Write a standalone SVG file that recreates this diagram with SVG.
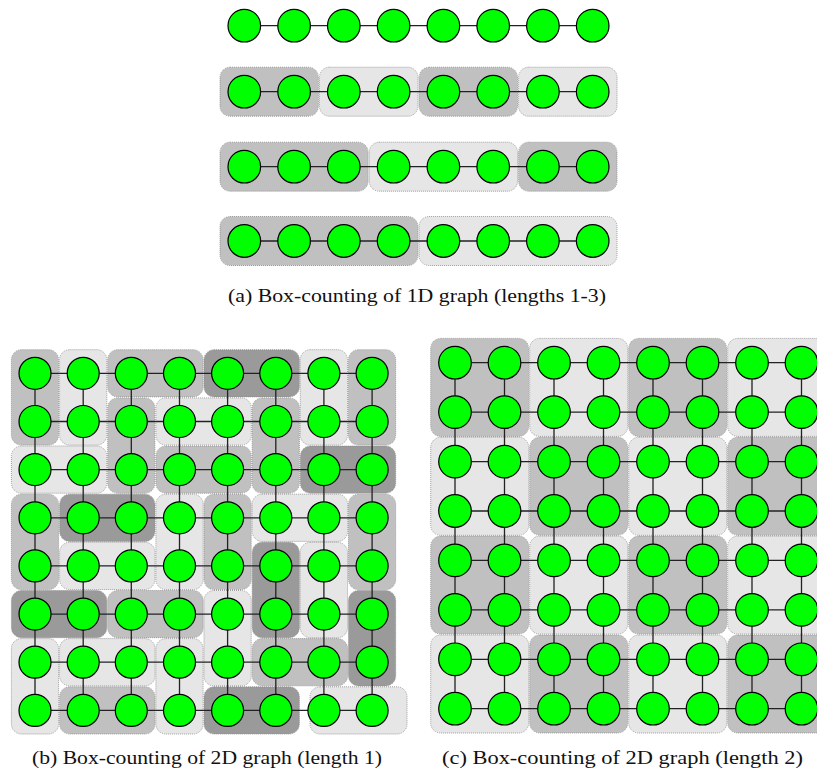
<svg xmlns="http://www.w3.org/2000/svg" width="817" height="774" viewBox="0 0 817 774">
<style>
.n circle{fill:#00ff00;stroke:#000;stroke-width:1.2}
.b{stroke:#8c8c8c;stroke-width:0.8;stroke-dasharray:1 1}
.L{fill:#e6e6e6}
.M{fill:#c0c0c0}
.D{fill:#9a9a9a}
.e{fill:none;stroke:#222;stroke-width:1.3}
.cap{font-family:"Liberation Serif","Times New Roman",serif;font-size:19px;fill:#111}
</style>
<rect width="817" height="774" fill="#fff"/>
<g id="boxes-a">
<rect class="b M" x="220" y="67.2" width="98.4" height="49" rx="10"/>
<rect class="b L" x="319.5" y="67.2" width="98.4" height="49" rx="10"/>
<rect class="b M" x="419.1" y="67.2" width="98.4" height="49" rx="10"/>
<rect class="b L" x="518.6" y="67.2" width="98.4" height="49" rx="10"/>
<rect class="b M" x="220" y="142.2" width="148.1" height="49" rx="10"/>
<rect class="b L" x="369.3" y="142.2" width="148.2" height="49" rx="10"/>
<rect class="b M" x="518.6" y="142.2" width="98.4" height="49" rx="10"/>
<rect class="b M" x="220" y="216.5" width="197.9" height="49" rx="10"/>
<rect class="b L" x="419.1" y="216.5" width="197.9" height="49" rx="10"/>
</g>
<g id="boxes-b">
<rect class="b M" x="11.4" y="349.7" width="47.2" height="95.4" rx="10"/>
<rect class="b L" x="59.6" y="349.7" width="47.2" height="95.4" rx="10"/>
<rect class="b M" x="107.7" y="349.7" width="95.4" height="47.2" rx="10"/>
<rect class="b D" x="204" y="349.7" width="95.4" height="47.2" rx="10"/>
<rect class="b L" x="300.3" y="349.7" width="47.2" height="95.4" rx="10"/>
<rect class="b M" x="348.5" y="349.7" width="47.2" height="95.4" rx="10"/>
<rect class="b M" x="107.7" y="397.9" width="47.2" height="95.4" rx="10"/>
<rect class="b L" x="155.9" y="397.9" width="95.4" height="47.2" rx="10"/>
<rect class="b M" x="252.2" y="397.9" width="47.2" height="95.4" rx="10"/>
<rect class="b L" x="11.4" y="446" width="95.4" height="47.2" rx="10"/>
<rect class="b M" x="155.9" y="446" width="95.4" height="47.2" rx="10"/>
<rect class="b D" x="300.3" y="446" width="95.4" height="47.2" rx="10"/>
<rect class="b M" x="11.4" y="494.2" width="47.2" height="95.4" rx="10"/>
<rect class="b D" x="59.6" y="494.2" width="95.4" height="47.2" rx="10"/>
<rect class="b L" x="155.9" y="494.2" width="47.2" height="95.4" rx="10"/>
<rect class="b M" x="204" y="494.2" width="47.2" height="95.4" rx="10"/>
<rect class="b L" x="252.2" y="494.2" width="95.4" height="47.2" rx="10"/>
<rect class="b M" x="348.5" y="494.2" width="47.2" height="95.4" rx="10"/>
<rect class="b L" x="59.6" y="542.3" width="95.4" height="47.2" rx="10"/>
<rect class="b D" x="252.2" y="542.3" width="47.2" height="95.4" rx="10"/>
<rect class="b L" x="300.3" y="542.3" width="47.2" height="95.4" rx="10"/>
<rect class="b D" x="11.4" y="590.5" width="95.4" height="47.2" rx="10"/>
<rect class="b M" x="107.7" y="590.5" width="95.4" height="47.2" rx="10"/>
<rect class="b L" x="204" y="590.5" width="47.2" height="95.4" rx="10"/>
<rect class="b D" x="348.5" y="590.5" width="47.2" height="95.4" rx="10"/>
<rect class="b L" x="11.4" y="638.6" width="47.2" height="95.4" rx="10"/>
<rect class="b L" x="59.6" y="638.6" width="95.4" height="47.2" rx="10"/>
<rect class="b L" x="155.9" y="638.6" width="47.2" height="95.4" rx="10"/>
<rect class="b M" x="252.2" y="638.6" width="95.4" height="47.2" rx="10"/>
<rect class="b M" x="59.6" y="686.8" width="95.4" height="47.2" rx="10"/>
<rect class="b D" x="204" y="686.8" width="95.4" height="47.2" rx="10"/>
<rect class="b L" x="310" y="686.8" width="97" height="47.2" rx="10"/>
</g>
<g id="boxes-c">
<rect class="b M" x="430.7" y="338.4" width="98" height="98" rx="10"/>
<rect class="b L" x="529.7" y="338.4" width="98" height="98" rx="10"/>
<rect class="b M" x="628.7" y="338.4" width="98" height="98" rx="10"/>
<rect class="b L" x="727.7" y="338.4" width="98" height="98" rx="10"/>
<rect class="b L" x="430.7" y="437.3" width="98" height="98" rx="10"/>
<rect class="b M" x="529.7" y="437.3" width="98" height="98" rx="10"/>
<rect class="b L" x="628.7" y="437.3" width="98" height="98" rx="10"/>
<rect class="b M" x="727.7" y="437.3" width="98" height="98" rx="10"/>
<rect class="b M" x="430.7" y="536.1" width="98" height="98" rx="10"/>
<rect class="b L" x="529.7" y="536.1" width="98" height="98" rx="10"/>
<rect class="b M" x="628.7" y="536.1" width="98" height="98" rx="10"/>
<rect class="b L" x="727.7" y="536.1" width="98" height="98" rx="10"/>
<rect class="b L" x="430.7" y="635" width="98" height="98" rx="10"/>
<rect class="b M" x="529.7" y="635" width="98" height="98" rx="10"/>
<rect class="b L" x="628.7" y="635" width="98" height="98" rx="10"/>
<rect class="b M" x="727.7" y="635" width="98" height="98" rx="10"/>
</g>
<g id="connectors">
<path class="e" d="M244.3 25.7H592.7M244.3 91.7H592.7M244.3 166.7H592.7M244.3 241H592.7"/>
<path class="e" d="M35 373.3H372.1M35 421.5H372.1M35 469.6H372.1M35 517.8H372.1M35 565.9H372.1M35 614.1H372.1M35 662.2H372.1M35 710.4H372.1M35 373.3V710.4M83.2 373.3V710.4M131.3 373.3V710.4M179.5 373.3V710.4M227.6 373.3V710.4M275.8 373.3V710.4M323.9 373.3V710.4M372.1 373.3V710.4"/>
<path class="e" d="M455 362.7H801.5M455 412.1H801.5M455 461.6H801.5M455 511H801.5M455 560.4H801.5M455 609.9H801.5M455 659.3H801.5M455 708.7H801.5M455 362.7V708.7M504.5 362.7V708.7M554 362.7V708.7M603.5 362.7V708.7M653 362.7V708.7M702.5 362.7V708.7M752 362.7V708.7M801.5 362.7V708.7"/>
</g>
<g id="nodes-a" class="n">
<g id="a1n0"><circle cx="244.3" cy="25.7" r="16.3"/></g>
<g id="a1n1"><circle cx="294.1" cy="25.7" r="16.3"/></g>
<g id="a1n2"><circle cx="343.8" cy="25.7" r="16.3"/></g>
<g id="a1n3"><circle cx="393.6" cy="25.7" r="16.3"/></g>
<g id="a1n4"><circle cx="443.4" cy="25.7" r="16.3"/></g>
<g id="a1n5"><circle cx="493.2" cy="25.7" r="16.3"/></g>
<g id="a1n6"><circle cx="542.9" cy="25.7" r="16.3"/></g>
<g id="a1n7"><circle cx="592.7" cy="25.7" r="16.3"/></g>
<g id="a2n0"><circle cx="244.3" cy="91.7" r="16.3"/></g>
<g id="a2n1"><circle cx="294.1" cy="91.7" r="16.3"/></g>
<g id="a2n2"><circle cx="343.8" cy="91.7" r="16.3"/></g>
<g id="a2n3"><circle cx="393.6" cy="91.7" r="16.3"/></g>
<g id="a2n4"><circle cx="443.4" cy="91.7" r="16.3"/></g>
<g id="a2n5"><circle cx="493.2" cy="91.7" r="16.3"/></g>
<g id="a2n6"><circle cx="542.9" cy="91.7" r="16.3"/></g>
<g id="a2n7"><circle cx="592.7" cy="91.7" r="16.3"/></g>
<g id="a3n0"><circle cx="244.3" cy="166.7" r="16.3"/></g>
<g id="a3n1"><circle cx="294.1" cy="166.7" r="16.3"/></g>
<g id="a3n2"><circle cx="343.8" cy="166.7" r="16.3"/></g>
<g id="a3n3"><circle cx="393.6" cy="166.7" r="16.3"/></g>
<g id="a3n4"><circle cx="443.4" cy="166.7" r="16.3"/></g>
<g id="a3n5"><circle cx="493.2" cy="166.7" r="16.3"/></g>
<g id="a3n6"><circle cx="542.9" cy="166.7" r="16.3"/></g>
<g id="a3n7"><circle cx="592.7" cy="166.7" r="16.3"/></g>
<g id="a4n0"><circle cx="244.3" cy="241" r="16.3"/></g>
<g id="a4n1"><circle cx="294.1" cy="241" r="16.3"/></g>
<g id="a4n2"><circle cx="343.8" cy="241" r="16.3"/></g>
<g id="a4n3"><circle cx="393.6" cy="241" r="16.3"/></g>
<g id="a4n4"><circle cx="443.4" cy="241" r="16.3"/></g>
<g id="a4n5"><circle cx="493.2" cy="241" r="16.3"/></g>
<g id="a4n6"><circle cx="542.9" cy="241" r="16.3"/></g>
<g id="a4n7"><circle cx="592.7" cy="241" r="16.3"/></g>
</g>
<g id="nodes-b" class="n">
<g id="b0-0"><circle cx="35" cy="373.3" r="16"/></g>
<g id="b0-1"><circle cx="83.2" cy="373.3" r="16"/></g>
<g id="b0-2"><circle cx="131.3" cy="373.3" r="16"/></g>
<g id="b0-3"><circle cx="179.5" cy="373.3" r="16"/></g>
<g id="b0-4"><circle cx="227.6" cy="373.3" r="16"/></g>
<g id="b0-5"><circle cx="275.8" cy="373.3" r="16"/></g>
<g id="b0-6"><circle cx="323.9" cy="373.3" r="16"/></g>
<g id="b0-7"><circle cx="372.1" cy="373.3" r="16"/></g>
<g id="b1-0"><circle cx="35" cy="421.5" r="16"/></g>
<g id="b1-1"><circle cx="83.2" cy="421.5" r="16"/></g>
<g id="b1-2"><circle cx="131.3" cy="421.5" r="16"/></g>
<g id="b1-3"><circle cx="179.5" cy="421.5" r="16"/></g>
<g id="b1-4"><circle cx="227.6" cy="421.5" r="16"/></g>
<g id="b1-5"><circle cx="275.8" cy="421.5" r="16"/></g>
<g id="b1-6"><circle cx="323.9" cy="421.5" r="16"/></g>
<g id="b1-7"><circle cx="372.1" cy="421.5" r="16"/></g>
<g id="b2-0"><circle cx="35" cy="469.6" r="16"/></g>
<g id="b2-1"><circle cx="83.2" cy="469.6" r="16"/></g>
<g id="b2-2"><circle cx="131.3" cy="469.6" r="16"/></g>
<g id="b2-3"><circle cx="179.5" cy="469.6" r="16"/></g>
<g id="b2-4"><circle cx="227.6" cy="469.6" r="16"/></g>
<g id="b2-5"><circle cx="275.8" cy="469.6" r="16"/></g>
<g id="b2-6"><circle cx="323.9" cy="469.6" r="16"/></g>
<g id="b2-7"><circle cx="372.1" cy="469.6" r="16"/></g>
<g id="b3-0"><circle cx="35" cy="517.8" r="16"/></g>
<g id="b3-1"><circle cx="83.2" cy="517.8" r="16"/></g>
<g id="b3-2"><circle cx="131.3" cy="517.8" r="16"/></g>
<g id="b3-3"><circle cx="179.5" cy="517.8" r="16"/></g>
<g id="b3-4"><circle cx="227.6" cy="517.8" r="16"/></g>
<g id="b3-5"><circle cx="275.8" cy="517.8" r="16"/></g>
<g id="b3-6"><circle cx="323.9" cy="517.8" r="16"/></g>
<g id="b3-7"><circle cx="372.1" cy="517.8" r="16"/></g>
<g id="b4-0"><circle cx="35" cy="565.9" r="16"/></g>
<g id="b4-1"><circle cx="83.2" cy="565.9" r="16"/></g>
<g id="b4-2"><circle cx="131.3" cy="565.9" r="16"/></g>
<g id="b4-3"><circle cx="179.5" cy="565.9" r="16"/></g>
<g id="b4-4"><circle cx="227.6" cy="565.9" r="16"/></g>
<g id="b4-5"><circle cx="275.8" cy="565.9" r="16"/></g>
<g id="b4-6"><circle cx="323.9" cy="565.9" r="16"/></g>
<g id="b4-7"><circle cx="372.1" cy="565.9" r="16"/></g>
<g id="b5-0"><circle cx="35" cy="614.1" r="16"/></g>
<g id="b5-1"><circle cx="83.2" cy="614.1" r="16"/></g>
<g id="b5-2"><circle cx="131.3" cy="614.1" r="16"/></g>
<g id="b5-3"><circle cx="179.5" cy="614.1" r="16"/></g>
<g id="b5-4"><circle cx="227.6" cy="614.1" r="16"/></g>
<g id="b5-5"><circle cx="275.8" cy="614.1" r="16"/></g>
<g id="b5-6"><circle cx="323.9" cy="614.1" r="16"/></g>
<g id="b5-7"><circle cx="372.1" cy="614.1" r="16"/></g>
<g id="b6-0"><circle cx="35" cy="662.2" r="16"/></g>
<g id="b6-1"><circle cx="83.2" cy="662.2" r="16"/></g>
<g id="b6-2"><circle cx="131.3" cy="662.2" r="16"/></g>
<g id="b6-3"><circle cx="179.5" cy="662.2" r="16"/></g>
<g id="b6-4"><circle cx="227.6" cy="662.2" r="16"/></g>
<g id="b6-5"><circle cx="275.8" cy="662.2" r="16"/></g>
<g id="b6-6"><circle cx="323.9" cy="662.2" r="16"/></g>
<g id="b6-7"><circle cx="372.1" cy="662.2" r="16"/></g>
<g id="b7-0"><circle cx="35" cy="710.4" r="16"/></g>
<g id="b7-1"><circle cx="83.2" cy="710.4" r="16"/></g>
<g id="b7-2"><circle cx="131.3" cy="710.4" r="16"/></g>
<g id="b7-3"><circle cx="179.5" cy="710.4" r="16"/></g>
<g id="b7-4"><circle cx="227.6" cy="710.4" r="16"/></g>
<g id="b7-5"><circle cx="275.8" cy="710.4" r="16"/></g>
<g id="b7-6"><circle cx="323.9" cy="710.4" r="16"/></g>
<g id="b7-7"><circle cx="372.1" cy="710.4" r="16"/></g>
</g>
<g id="nodes-c" class="n">
<g id="c0-0"><circle cx="455" cy="362.7" r="16.3"/></g>
<g id="c0-1"><circle cx="504.5" cy="362.7" r="16.3"/></g>
<g id="c0-2"><circle cx="554" cy="362.7" r="16.3"/></g>
<g id="c0-3"><circle cx="603.5" cy="362.7" r="16.3"/></g>
<g id="c0-4"><circle cx="653" cy="362.7" r="16.3"/></g>
<g id="c0-5"><circle cx="702.5" cy="362.7" r="16.3"/></g>
<g id="c0-6"><circle cx="752" cy="362.7" r="16.3"/></g>
<g id="c0-7"><circle cx="801.5" cy="362.7" r="16.3"/></g>
<g id="c1-0"><circle cx="455" cy="412.1" r="16.3"/></g>
<g id="c1-1"><circle cx="504.5" cy="412.1" r="16.3"/></g>
<g id="c1-2"><circle cx="554" cy="412.1" r="16.3"/></g>
<g id="c1-3"><circle cx="603.5" cy="412.1" r="16.3"/></g>
<g id="c1-4"><circle cx="653" cy="412.1" r="16.3"/></g>
<g id="c1-5"><circle cx="702.5" cy="412.1" r="16.3"/></g>
<g id="c1-6"><circle cx="752" cy="412.1" r="16.3"/></g>
<g id="c1-7"><circle cx="801.5" cy="412.1" r="16.3"/></g>
<g id="c2-0"><circle cx="455" cy="461.6" r="16.3"/></g>
<g id="c2-1"><circle cx="504.5" cy="461.6" r="16.3"/></g>
<g id="c2-2"><circle cx="554" cy="461.6" r="16.3"/></g>
<g id="c2-3"><circle cx="603.5" cy="461.6" r="16.3"/></g>
<g id="c2-4"><circle cx="653" cy="461.6" r="16.3"/></g>
<g id="c2-5"><circle cx="702.5" cy="461.6" r="16.3"/></g>
<g id="c2-6"><circle cx="752" cy="461.6" r="16.3"/></g>
<g id="c2-7"><circle cx="801.5" cy="461.6" r="16.3"/></g>
<g id="c3-0"><circle cx="455" cy="511" r="16.3"/></g>
<g id="c3-1"><circle cx="504.5" cy="511" r="16.3"/></g>
<g id="c3-2"><circle cx="554" cy="511" r="16.3"/></g>
<g id="c3-3"><circle cx="603.5" cy="511" r="16.3"/></g>
<g id="c3-4"><circle cx="653" cy="511" r="16.3"/></g>
<g id="c3-5"><circle cx="702.5" cy="511" r="16.3"/></g>
<g id="c3-6"><circle cx="752" cy="511" r="16.3"/></g>
<g id="c3-7"><circle cx="801.5" cy="511" r="16.3"/></g>
<g id="c4-0"><circle cx="455" cy="560.4" r="16.3"/></g>
<g id="c4-1"><circle cx="504.5" cy="560.4" r="16.3"/></g>
<g id="c4-2"><circle cx="554" cy="560.4" r="16.3"/></g>
<g id="c4-3"><circle cx="603.5" cy="560.4" r="16.3"/></g>
<g id="c4-4"><circle cx="653" cy="560.4" r="16.3"/></g>
<g id="c4-5"><circle cx="702.5" cy="560.4" r="16.3"/></g>
<g id="c4-6"><circle cx="752" cy="560.4" r="16.3"/></g>
<g id="c4-7"><circle cx="801.5" cy="560.4" r="16.3"/></g>
<g id="c5-0"><circle cx="455" cy="609.9" r="16.3"/></g>
<g id="c5-1"><circle cx="504.5" cy="609.9" r="16.3"/></g>
<g id="c5-2"><circle cx="554" cy="609.9" r="16.3"/></g>
<g id="c5-3"><circle cx="603.5" cy="609.9" r="16.3"/></g>
<g id="c5-4"><circle cx="653" cy="609.9" r="16.3"/></g>
<g id="c5-5"><circle cx="702.5" cy="609.9" r="16.3"/></g>
<g id="c5-6"><circle cx="752" cy="609.9" r="16.3"/></g>
<g id="c5-7"><circle cx="801.5" cy="609.9" r="16.3"/></g>
<g id="c6-0"><circle cx="455" cy="659.3" r="16.3"/></g>
<g id="c6-1"><circle cx="504.5" cy="659.3" r="16.3"/></g>
<g id="c6-2"><circle cx="554" cy="659.3" r="16.3"/></g>
<g id="c6-3"><circle cx="603.5" cy="659.3" r="16.3"/></g>
<g id="c6-4"><circle cx="653" cy="659.3" r="16.3"/></g>
<g id="c6-5"><circle cx="702.5" cy="659.3" r="16.3"/></g>
<g id="c6-6"><circle cx="752" cy="659.3" r="16.3"/></g>
<g id="c6-7"><circle cx="801.5" cy="659.3" r="16.3"/></g>
<g id="c7-0"><circle cx="455" cy="708.7" r="16.3"/></g>
<g id="c7-1"><circle cx="504.5" cy="708.7" r="16.3"/></g>
<g id="c7-2"><circle cx="554" cy="708.7" r="16.3"/></g>
<g id="c7-3"><circle cx="603.5" cy="708.7" r="16.3"/></g>
<g id="c7-4"><circle cx="653" cy="708.7" r="16.3"/></g>
<g id="c7-5"><circle cx="702.5" cy="708.7" r="16.3"/></g>
<g id="c7-6"><circle cx="752" cy="708.7" r="16.3"/></g>
<g id="c7-7"><circle cx="801.5" cy="708.7" r="16.3"/></g>
</g>
<g id="captions">
<text class="cap" x="228" y="302" textLength="378" lengthAdjust="spacingAndGlyphs">(a) Box-counting of 1D graph (lengths 1-3)</text>
<text class="cap" x="32" y="764" textLength="350" lengthAdjust="spacingAndGlyphs">(b) Box-counting of 2D graph (length 1)</text>
<text class="cap" x="442" y="764" textLength="361" lengthAdjust="spacingAndGlyphs">(c) Box-counting of 2D graph (length 2)</text>
</g>
</svg>
